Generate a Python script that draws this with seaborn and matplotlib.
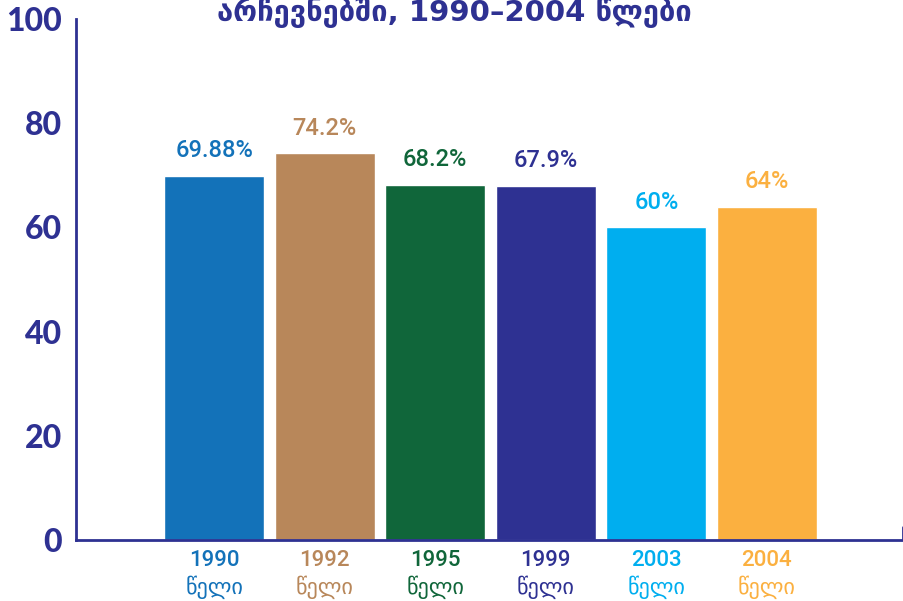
import matplotlib
matplotlib.use('Agg')
import matplotlib.pyplot as plt
import seaborn as sns
import pandas as pd

years = ['1990', '1992', '1995', '1999', '2003', '2004']
turnout = [69.88, 74.2, 68.2, 67.9, 60, 64]
value_labels = ['69.88%', '74.2%', '68.2%', '67.9%', '60%', '64%']
colors = ['#1372b9', '#b8875a', '#10663a', '#2e3192', '#00aeef', '#fbb040']
title = 'არჩევნებში, 1990–2004 წლები'
year_word = 'წელი'
navy = '#2e3192'

sns.set_theme(style='white')
plt.rcParams['font.family'] = ['Roboto', 'DejaVu Sans']

df = pd.DataFrame({'year': years, 'turnout': turnout})

fig = plt.figure(figsize=(9.04, 6.01), dpi=100)
ax = fig.add_axes([76 / 904, 61 / 601, 828 / 904, 521 / 601])

sns.barplot(data=df, x='year', y='turnout', hue='year', palette=colors,
            width=0.905, saturation=1, legend=False, ax=ax)

ax.set_xlim(-1.25, 6.24)
ax.set_ylim(0, 100)
ax.set_xlabel('')
ax.set_ylabel('')

# value labels above bars
for i, (v, lab) in enumerate(zip(turnout, value_labels)):
    ax.annotate(lab, (i, v), xytext=(0, 10), textcoords='offset points',
                ha='center', va='bottom', color=colors[i], fontsize=17,
                fontweight='medium', family=['Roboto', 'DejaVu Sans'])

# axes styling
for s in ['top', 'right']:
    ax.spines[s].set_visible(False)
for s in ['left', 'bottom']:
    ax.spines[s].set_color(navy)
    ax.spines[s].set_linewidth(2)

ax.set_yticks([0, 20, 40, 60, 80, 100])
ax.tick_params(axis='y', direction='in', length=15, width=1.8, color=navy,
               pad=10, labelsize=23, labelcolor=navy)
for t in ax.get_yticklabels():
    t.set_fontweight('black')
    t.set_family(['Lato', 'DejaVu Sans'])
ax.yaxis.get_major_ticks()[0].tick1line.set_color('#fbb040')

ax.set_xticks(range(len(years)))
ax.set_xticklabels([f'{y}\n{year_word}' for y in years], linespacing=1.25)
ax.tick_params(axis='x', length=0, pad=7, labelsize=16)
for t, c in zip(ax.get_xticklabels(), colors):
    t.set_color(c)
    t.set_fontweight('medium')

# small tick at right end of x axis
ax.axvline(6.23, ymax=0.025, color=navy, lw=2)

fig.text(0.503, 1 - 21 / 601, title, ha='center', va='baseline',
         color=navy, fontsize=21, fontweight='bold',
         family=['DejaVu Sans'])

fig.savefig('out.png', dpi=100)
